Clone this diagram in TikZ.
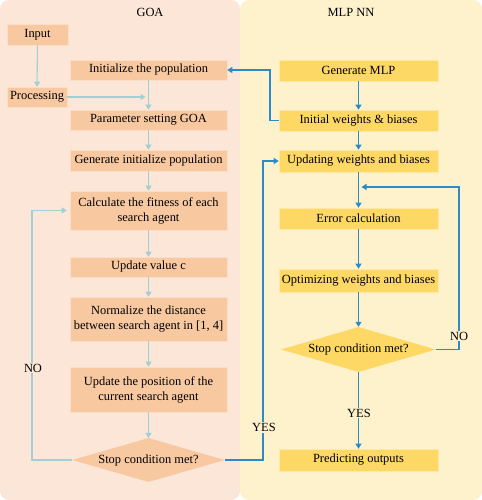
\documentclass[tikz,border=0pt]{standalone}
\usepackage{fontspec}
\setmainfont{Liberation Serif}
\usetikzlibrary{shapes.geometric,arrows.meta}
\definecolor{goabg}{HTML}{FBE6D8}
\definecolor{mlpbg}{HTML}{FEF2CD}
\definecolor{goafill}{HTML}{F8C8A0}
\definecolor{mlpfill}{HTML}{FDD865}
\definecolor{goaline}{HTML}{A3CED2}
\definecolor{mlpline}{HTML}{2A8BC8}

\begin{document}
\begin{tikzpicture}[x=1bp,y=-1bp,
    every node/.style={font=\fontsize{12.5}{15}\selectfont},
    goabox/.style={fill=goafill,draw=goafill!60!white,line width=0.6bp,minimum width=157bp,minimum height=20bp,inner sep=1bp,align=center},
    mlpbox/.style={fill=mlpfill,draw=mlpfill!60!white,line width=0.6bp,minimum width=159bp,minimum height=21bp,inner sep=1bp,align=center},
    goadia/.style={diamond,fill=goafill,aspect=3.5,inner sep=0bp,minimum width=153bp,minimum height=44bp},
    mlpdia/.style={diamond,fill=mlpfill,aspect=3.5,inner sep=0bp,minimum width=155bp,minimum height=45bp},
    goaarr/.style={goaline,line width=1.1bp,-{Triangle[width=6bp,length=5bp]}},
    mlparr/.style={mlpline,line width=1.1bp,-{Triangle[width=6bp,length=5bp]}},
    lbl/.style={inner sep=1bp}]
    \useasboundingbox (0,0) rectangle (482,500);
    \fill[goabg,rounded corners=9bp] (0,0) rectangle (240,500);
    \fill[mlpbg,rounded corners=9bp] (240,0) rectangle (482,500);
    \node (goatitle) at (150,12.5) {GOA};
    \node (mlptitle) at (351,12.5) {MLP NN};

    \node[goabox,minimum width=61bp,minimum height=21bp] (input) at (37.5,34.5) {Input};
    \node[goabox,minimum width=60bp] (procs) at (37,97) {Processing};
    \node[goabox] (initpop) at (148.5,70) {Initialize the population};
    \node[goabox] (param) at (148.5,120) {Parameter setting GOA};
    \node[goabox,minimum height=21bp] (genpop) at (148.5,160.5) {Generate initialize population};
    \node[goabox,minimum height=39bp] (fitness) at (148.5,210.5) {Calculate the fitness of each\\search agent};
    \node[goabox] (updc) at (148.5,267) {Update value c};
    \node[goabox,minimum height=44bp] (norm) at (148.5,319) {Normalize the distance\\between search agent in [1, 4]};
    \node[goabox,minimum height=45bp] (updpos) at (148.5,389.5) {Update the position of the\\current search agent};
    \node[goadia] (stopl) at (148.5,460) {Stop condition met?};

    \node[mlpbox] (genmlp) at (358.5,70.5) {Generate MLP};
    \node[mlpbox] (initw) at (358.5,120.5) {Initial weights \& biases};
    \node[mlpbox,minimum height=22bp] (updw) at (358.5,161) {Updating weights and biases};
    \node[mlpbox] (errc) at (358.5,218.5) {Error calculation};
    \node[mlpbox,minimum height=23bp] (optw) at (358.5,280.5) {Optimizing weights and biases};
    \node[mlpdia] (stopr) at (358.5,349.5) {Stop condition met?};
    \node[mlpbox,minimum height=22bp] (pred) at (358.5,460) {Predicting outputs};

    \draw[goaarr] (input) -- (procs);
    \draw[goaarr,shorten >=3bp] (procs.east) -- (procs.east -| initpop.south);
    \draw[goaarr] (initpop) -- (param);
    \draw[goaarr] (param) -- (genpop);
    \draw[goaarr] (genpop) -- (fitness);
    \draw[goaarr] (fitness) -- (updc);
    \draw[goaarr] (updc) -- (norm);
    \draw[goaarr] (norm) -- (updpos);
    \draw[goaarr] (updpos) -- (stopl);
    \coordinate (noturn) at (32,460);
    \draw[goaarr,shorten >=3bp] (stopl.west) -- (noturn) |- (fitness.west);
    \node[lbl,fill=goabg] (nol) at (33,368) {NO};

    \draw[mlparr] (genmlp) -- (initw);
    \draw[mlparr] (initw) -- (updw);
    \draw[mlparr] (updw) -- (errc);
    \draw[mlparr] (errc) -- (optw);
    \draw[mlparr] (optw) -- (stopr);
    \draw[mlparr] (stopr) -- (pred);
    \node[lbl,fill=mlpbg] (yesr) at (359,413) {YES};
    \coordinate (initturn) at (270,120.5);
    \draw[mlparr] (initw.west) -- (initturn) |- (initpop.east);
    \coordinate (yesturn) at (263,460);
    \draw[mlparr] (stopl.east) -- (yesturn) |- (updw.west);
    \node[lbl,fill=mlpbg] (yesl) at (264,427.5) {YES};
    \coordinate (noturnr) at (459,349.5);
    \coordinate (noback) at (459,187);
    \draw[mlparr,shorten >=3bp] (stopr.east) -- (noturnr) -- (noback) -- (noback -| updw.south);
    \node[lbl,fill=mlpbg] (nor) at (459,336) {NO};
\end{tikzpicture}
\end{document}
